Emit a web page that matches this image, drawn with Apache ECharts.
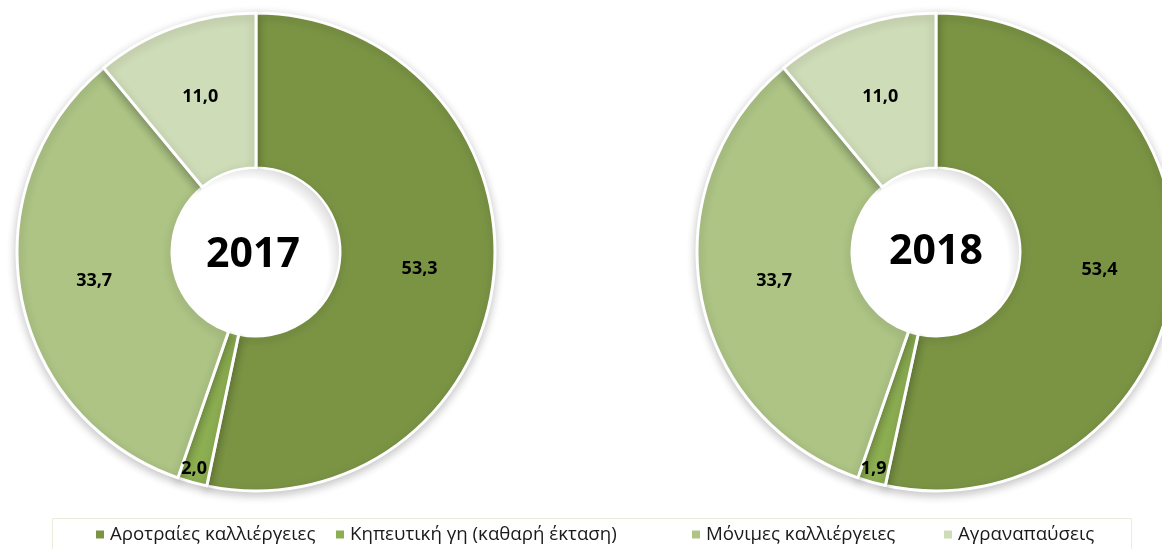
<!DOCTYPE html>
<html>
<head>
<meta charset="utf-8">
<script src="https://cdn.jsdelivr.net/npm/echarts@6/dist/echarts.min.js"></script>
<style>
html,body{margin:0;padding:0;background:#fff;}
#c{width:1162px;height:549px;}
</style>
</head>
<body>
<div id="c"></div>
<script>
const categories = ['Αροτραίες καλλιέργειες', 'Κηπευτική γη (καθαρή έκταση)', 'Μόνιμες καλλιέργειες', 'Αγραναπαύσεις'];
const values2017 = [53.3, 2.0, 33.7, 11.0];
const values2018 = [53.4, 1.9, 33.7, 11.0];
const years = ['2017', '2018'];
const colors = ['#7B9444', '#8DAF52', '#ADC485', '#CFDCB8'];

const centers = [[256, 252], [936, 252]];
const outerR = 239, innerR = 84;
const legendLefts = [94, 334, 690, 942];

function fmt(v) { return v.toFixed(1).replace('.', ','); }

function donut(name, values, center) {
  return {
    name: name,
    type: 'pie',
    center: center,
    radius: [innerR, outerR],
    startAngle: 90,
    clockwise: true,
    avoidLabelOverlap: false,
    animation: false,
    data: categories.map((c, i) => ({ name: c, value: values[i] })),
    itemStyle: {
      borderColor: '#fff',
      borderWidth: 3,
      shadowBlur: 10,
      shadowColor: 'rgba(0,0,0,0.22)',
      shadowOffsetY: 3
    },
    label: {
      show: true,
      position: 'inside',
      formatter: p => fmt(p.value),
      fontFamily: 'Open Sans',
      fontWeight: 'bold',
      fontSize: 18,
      color: '#000'
    },
    labelLine: { show: false },
    labelLayout: function (p) {
      if (p.dataIndex === 1) return { dx: -18, dy: 58 };
      return {};
    },
    emphasis: { disabled: true }
  };
}

function hole(center) {
  return {
    type: 'pie',
    center: center,
    radius: [0, innerR - 1],
    silent: true,
    animation: false,
    label: { show: false },
    labelLine: { show: false },
    data: [{
      value: 1,
      itemStyle: {
        color: {
          type: 'radial', x: 0.44, y: 0.56, r: 0.62,
          colorStops: [
            { offset: 0, color: '#ffffff' },
            { offset: 0.8, color: '#ffffff' },
            { offset: 1, color: '#cfcfcf' }
          ]
        }
      }
    }],
    emphasis: { disabled: true }
  };
}

const legends = categories.map((c, i) => ({
  data: [c],
  left: legendLefts[i],
  top: 525,
  icon: 'rect',
  itemWidth: 10,
  itemHeight: 10,
  itemGap: 5,
  padding: 0,
  textStyle: { fontFamily: 'Open Sans', fontSize: 18.7, color: '#1a1a1a' },
  selectedMode: false
}));

const chart = echarts.init(document.getElementById('c'), null, { renderer: 'canvas' });
chart.setOption({
  backgroundColor: '#fff',
  color: colors,
  animation: false,
  legend: legends,
  graphic: [
    { type: 'rect', left: 50, top: 516, shape: { width: 1079, height: 40 },
      style: { fill: 'none', stroke: '#ECECDD', lineWidth: 1 }, silent: true, z: -1 },
    { type: 'text', x: centers[0][0] - 3, y: centers[0][1] + 3,
      style: { text: years[0], font: 'bold 41px "Open Sans"', fill: '#000', align: 'center', verticalAlign: 'middle' }, z: 100 },
    { type: 'text', x: centers[1][0], y: centers[1][1],
      style: { text: years[1], font: 'bold 41px "Open Sans"', fill: '#000', align: 'center', verticalAlign: 'middle' }, z: 100 }
  ],
  series: [
    donut('2017', values2017, centers[0]),
    donut('2018', values2018, centers[1]),
    hole(centers[0]),
    hole(centers[1])
  ]
});
</script>
</body>
</html>
